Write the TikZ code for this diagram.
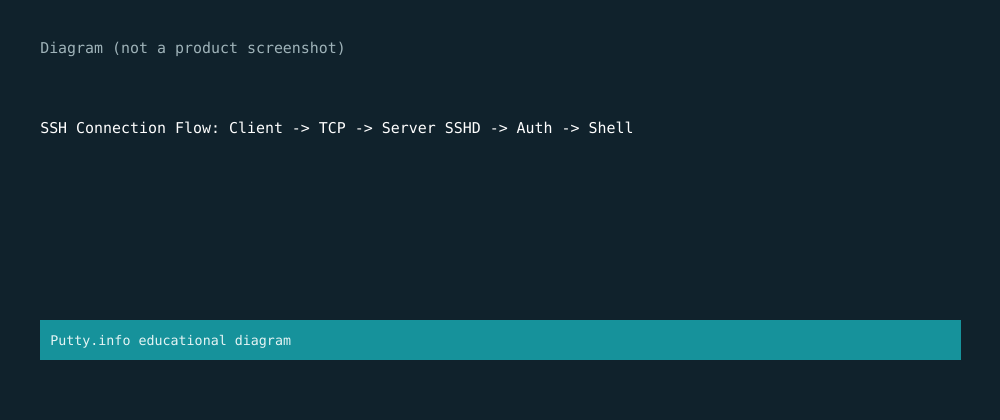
\documentclass[tikz,border=0pt]{standalone}
\usepackage{fontspec}
\setmonofont{DejaVu Sans Mono}
\definecolor{bg}{HTML}{10222C}
\definecolor{subtle}{HTML}{9FB3B9}
\definecolor{teal}{HTML}{16929B}
\definecolor{bantext}{HTML}{E6F5F5}
\begin{document}
\begin{tikzpicture}[x=0.75pt,y=-0.75pt,
  txt/.style={anchor=base west,inner sep=0pt,font=\ttfamily\fontsize{11.2pt}{13pt}\selectfont},
  banner/.style={fill=teal,draw=none}]
\fill[bg] (0,0) rectangle (1000,420);
\useasboundingbox (0,0) rectangle (1000,420);
\node[txt,text=subtle] (cap) at (40,54) {Diagram (not a product screenshot)};
\node[txt,text=white] (flow) at (40,134) {SSH Connection Flow: Client -> TCP -> Server SSHD -> Auth -> Shell};
\node[banner,minimum width=921*0.75pt,minimum height=40*0.75pt,anchor=north west,inner sep=0pt] (ban) at (40,320) {};
\node[txt,text=bantext,font=\ttfamily\fontsize{10pt}{12pt}\selectfont] (bantxt) at (50,346) {Putty.info educational diagram};
\end{tikzpicture}
\end{document}
